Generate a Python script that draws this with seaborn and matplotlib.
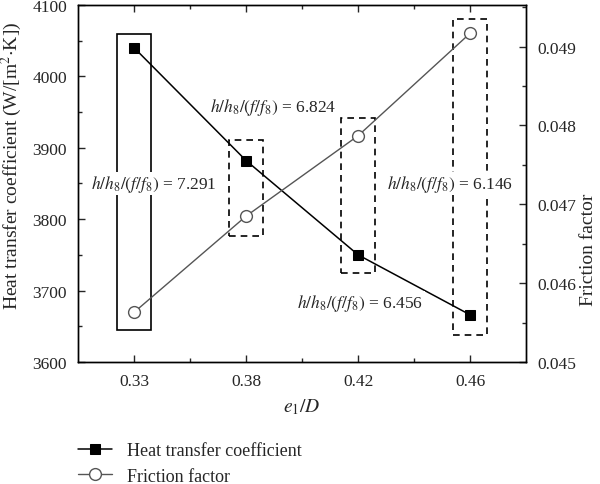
import numpy as np
import pandas as pd
import matplotlib
matplotlib.use("Agg")
import matplotlib.pyplot as plt
from matplotlib.patches import Rectangle
from matplotlib.ticker import MultipleLocator, FixedLocator
import seaborn as sns

# data
e_ratio = ["0.33", "0.38", "0.42", "0.46"]
heat_coef = [4040, 3882, 3750, 3666]
friction = [0.04563, 0.04685, 0.04787, 0.04917]

# ratio labels and the boxes drawn around each pair of points (left-axis units)
ratio_vals = ["7.291", "6.824", "6.456", "6.146"]
box_low = [3645, 3777, 3725, 3638]
box_high = [4059, 3911, 3942, 4080]
box_style = ["solid", "dashed", "dashed", "dashed"]
label_x = [0.18, 1.245, 2.02, 2.82]
label_y = [3850, 3958, 3683, 3850]

df = pd.DataFrame({"e1/D": e_ratio, "h": heat_coef, "f": friction})

sns.set_style("ticks")
plt.rcParams["font.family"] = ["Liberation Serif", "DejaVu Serif"]
plt.rcParams["mathtext.fontset"] = "stix"
plt.rcParams["font.size"] = 12.5

fig = plt.figure(figsize=(6, 4.85), dpi=100)
ax = fig.add_axes([0.13, 0.2515, 0.747, 0.7365])
ax2 = ax.twinx()

sns.lineplot(data=df, x="e1/D", y="h", ax=ax, color="black", lw=1.1,
             marker="s", markersize=6.5, markeredgecolor="black",
             label="Heat transfer coefficient", legend=False)
sns.lineplot(data=df, x="e1/D", y="f", ax=ax2, color="#555555", lw=1.0,
             marker="o", markersize=8.5, markerfacecolor="white",
             markeredgecolor="#555555", markeredgewidth=1.0,
             label="Friction factor", legend=False)

for i in range(len(e_ratio)):
    ls = "-" if box_style[i] == "solid" else (0, (4, 3))
    ax.add_patch(Rectangle((i - 0.15, box_low[i]), 0.3, box_high[i] - box_low[i],
                           fill=False, ec="black", lw=1.2, ls=ls, zorder=1))
    ax.text(label_x[i], label_y[i], r"$h/h_8/(f/f_8)$ = " + ratio_vals[i],
            ha="center", va="center", fontsize=12.5, zorder=3,
            bbox=dict(fc="white", ec="none", pad=1))

ax.set_xlim(-0.5, 3.5)
ax.set_ylim(3600, 4100)
ax2.set_ylim(0.045, 0.04953)
ax.set_xticks(range(4))
ax.set_xticklabels(e_ratio)
ax.xaxis.set_minor_locator(FixedLocator([0.5, 1.5, 2.5]))
ax.yaxis.set_major_locator(MultipleLocator(100))
ax.yaxis.set_minor_locator(MultipleLocator(50))
ax2.yaxis.set_major_locator(FixedLocator([0.045, 0.046, 0.047, 0.048, 0.049]))
ax2.yaxis.set_minor_locator(MultipleLocator(0.0005))
ax2.set_yticklabels(["0.045", "0.046", "0.047", "0.048", "0.049"])

ax.tick_params(which="both", direction="in", top=True, labelsize=12.5, pad=8)
ax.tick_params(which="major", length=5, width=1)
ax.tick_params(which="minor", length=3, width=1)
ax2.tick_params(which="both", direction="in", labelsize=12.5, pad=8)
ax2.tick_params(which="major", length=5, width=1)
ax2.tick_params(which="minor", length=3, width=1)
ax.tick_params(axis="y", which="both", right=False)

for a in (ax, ax2):
    for s in a.spines.values():
        s.set_linewidth(1.0)
        s.set_color("black")

ax.set_xlabel("$e_1/D$", fontsize=14, labelpad=5)
ax.set_ylabel("Heat transfer coefficient (W/[m$^2$$\\cdot$K])", fontsize=14)
ax2.set_ylabel("Friction factor", fontsize=14)
ax.yaxis.set_label_coords(-0.12, 0.552)
ax2.yaxis.set_label_coords(1.12, 0.317)

h1, l1 = ax.get_legend_handles_labels()
h2, l2 = ax2.get_legend_handles_labels()
fig.legend(h1 + h2, l1 + l2, loc="upper left", bbox_to_anchor=(0.13, 0.0866),
           frameon=False, handlelength=1.9, handletextpad=0.83, labelspacing=0.48,
           borderaxespad=0, borderpad=0, fontsize=13)

fig.savefig("out.png", dpi=100)
